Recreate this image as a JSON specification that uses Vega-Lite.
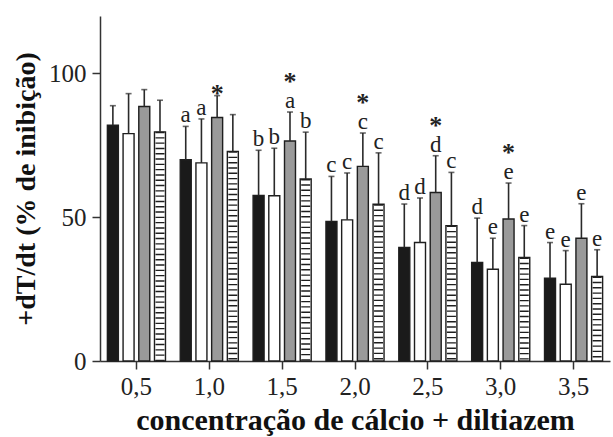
{
  "$schema": "https://vega.github.io/schema/vega-lite/v6.json",
  "width": 510,
  "height": 345,
  "autosize": "none",
  "padding": {"left": 100, "top": 16, "right": 3, "bottom": 76},
  "background": "white",
  "config": {
    "view": {"stroke": null},
    "font": "Liberation Serif",
    "axis": {
      "labelFont": "Liberation Serif",
      "labelFontSize": 25,
      "labelColor": "#222",
      "titleFont": "Liberation Serif",
      "titleFontWeight": "bold",
      "titleColor": "#111",
      "domainColor": "#333",
      "domainWidth": 1.5,
      "tickColor": "#333",
      "tickWidth": 1.5,
      "tickSize": 8,
      "grid": false
    }
  },
  "data": {
    "values": [
      {"conc": "0,5", "s": "A", "v": 82.0, "e": 88.8, "lbl": "", "star": ""},
      {"conc": "0,5", "s": "B", "v": 79.1, "e": 93.0, "lbl": "", "star": ""},
      {"conc": "0,5", "s": "C", "v": 88.5, "e": 94.4, "lbl": "", "star": ""},
      {"conc": "0,5", "s": "D", "v": 79.7, "e": 90.7, "lbl": "", "star": ""},
      {"conc": "1,0", "s": "A", "v": 70.0, "e": 81.6, "lbl": "a", "star": ""},
      {"conc": "1,0", "s": "B", "v": 68.9, "e": 84.2, "lbl": "a", "star": ""},
      {"conc": "1,0", "s": "C", "v": 84.7, "e": 92.3, "lbl": "", "star": "*"},
      {"conc": "1,0", "s": "D", "v": 72.9, "e": 85.7, "lbl": "", "star": ""},
      {"conc": "1,5", "s": "A", "v": 57.6, "e": 73.3, "lbl": "b", "star": ""},
      {"conc": "1,5", "s": "B", "v": 57.5, "e": 74.0, "lbl": "b", "star": ""},
      {"conc": "1,5", "s": "C", "v": 76.5, "e": 86.6, "lbl": "a", "star": "*"},
      {"conc": "1,5", "s": "D", "v": 63.3, "e": 79.6, "lbl": "b", "star": ""},
      {"conc": "2,0", "s": "A", "v": 48.5, "e": 64.2, "lbl": "c", "star": ""},
      {"conc": "2,0", "s": "B", "v": 49.1, "e": 65.4, "lbl": "c", "star": ""},
      {"conc": "2,0", "s": "C", "v": 67.7, "e": 79.3, "lbl": "c", "star": "*"},
      {"conc": "2,0", "s": "D", "v": 54.5, "e": 72.4, "lbl": "c", "star": ""},
      {"conc": "2,5", "s": "A", "v": 39.5, "e": 54.6, "lbl": "d", "star": ""},
      {"conc": "2,5", "s": "B", "v": 41.2, "e": 56.7, "lbl": "d", "star": ""},
      {"conc": "2,5", "s": "C", "v": 58.6, "e": 71.4, "lbl": "d", "star": "*"},
      {"conc": "2,5", "s": "D", "v": 47.1, "e": 65.6, "lbl": "c", "star": ""},
      {"conc": "3,0", "s": "A", "v": 34.3, "e": 49.7, "lbl": "d", "star": ""},
      {"conc": "3,0", "s": "B", "v": 31.9, "e": 42.7, "lbl": "e", "star": ""},
      {"conc": "3,0", "s": "C", "v": 49.4, "e": 61.9, "lbl": "e", "star": "*"},
      {"conc": "3,0", "s": "D", "v": 36.0, "e": 47.1, "lbl": "e", "star": ""},
      {"conc": "3,5", "s": "A", "v": 28.8, "e": 41.2, "lbl": "e", "star": ""},
      {"conc": "3,5", "s": "B", "v": 26.7, "e": 38.4, "lbl": "e", "star": ""},
      {"conc": "3,5", "s": "C", "v": 42.7, "e": 54.7, "lbl": "e", "star": ""},
      {"conc": "3,5", "s": "D", "v": 29.4, "e": 38.7, "lbl": "e", "star": ""}
    ]
  },
  "encoding": {
    "x": {
      "field": "conc",
      "type": "nominal",
      "sort": null,
      "scale": {"paddingInner": 0, "paddingOuter": 0},
      "axis": {"title": "concentração de cálcio + diltiazem", "titleFontSize": 30, "labelAngle": 0, "labelPadding": 5, "titlePadding": 6}
    },
    "xOffset": {
      "field": "s",
      "type": "nominal",
      "scale": {"domain": ["A", "B", "C", "D"], "paddingInner": 0.3, "paddingOuter": 0.47}
    }
  },
  "layer": [
    {
      "mark": {"type": "bar", "stroke": "#1e1e1e", "strokeWidth": 1.4},
      "encoding": {
        "y": {
          "field": "v",
          "type": "quantitative",
          "scale": {"domain": [0, 120], "nice": false},
          "axis": {"values": [0, 50, 100], "title": "+dT/dt (% de inibição)", "titleFontSize": 28, "labelPadding": 6, "titlePadding": 8}
        },
        "fill": {
          "field": "s",
          "type": "nominal",
          "scale": {"domain": ["A", "B", "C", "D"], "range": ["#1a1a1a", "#ffffff", "#9a9a9a", "#ffffff"]},
          "legend": null
        }
      }
    },
    {
      "transform": [{"filter": "datum.s == 'D'"}],
      "mark": {"type": "rule", "color": "#1e1e1e", "strokeWidth": 9, "strokeDash": [1.4, 3.9]},
      "encoding": {
        "y": {"field": "v", "type": "quantitative"},
        "y2": {"datum": 0}
      }
    },
    {
      "mark": {"type": "rule", "color": "#2a2a2a", "strokeWidth": 1.6},
      "encoding": {
        "y": {"field": "v", "type": "quantitative"},
        "y2": {"field": "e"}
      }
    },
    {
      "mark": {"type": "tick", "color": "#2a2a2a", "thickness": 1.6, "size": 6, "orient": "horizontal"},
      "encoding": {
        "y": {"field": "e", "type": "quantitative"}
      }
    },
    {
      "transform": [{"filter": "datum.lbl != ''"}],
      "mark": {"type": "text", "font": "Liberation Serif", "fontSize": 23, "baseline": "alphabetic", "dy": -4, "color": "#222"},
      "encoding": {
        "y": {"field": "e", "type": "quantitative"},
        "text": {"field": "lbl"}
      }
    },
    {
      "transform": [{"filter": "datum.star != '' && datum.lbl != ''"}],
      "mark": {"type": "text", "font": "Liberation Serif", "fontSize": 26, "fontWeight": "bold", "baseline": "alphabetic", "dy": -22, "color": "#222"},
      "encoding": {
        "y": {"field": "e", "type": "quantitative"},
        "text": {"field": "star"}
      }
    },
    {
      "transform": [{"filter": "datum.star != '' && datum.lbl == ''"}],
      "mark": {"type": "text", "font": "Liberation Serif", "fontSize": 26, "fontWeight": "bold", "baseline": "alphabetic", "dy": 6, "color": "#222"},
      "encoding": {
        "y": {"field": "e", "type": "quantitative"},
        "text": {"field": "star"}
      }
    }
  ]
}
